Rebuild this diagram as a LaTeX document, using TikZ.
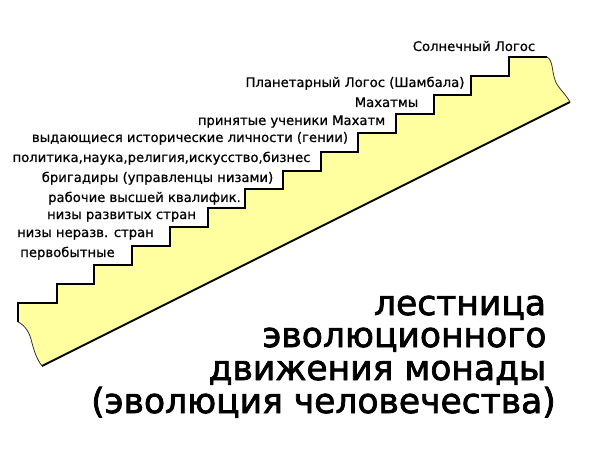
\documentclass[tikz,border=0pt]{standalone}
\usepackage{fontspec}
\setmainfont{DejaVu Sans}
\newfontfamily\lblfont[FakeBold=0.8]{DejaVu Sans}
\newfontfamily\ttlfont[FakeBold=2.2]{DejaVu Sans}
\definecolor{stairfill}{RGB}{255,255,160}
\begin{document}
\begin{tikzpicture}[x=1pt,y=-1pt,
  lbl/.style={font=\lblfont\fontsize{13.2}{15}\selectfont, anchor=base, inner sep=0pt},
  ttl/.style={font=\ttlfont\fontsize{34.5}{40}\selectfont, anchor=base, inner sep=0pt},
  outline/.style={line width=2pt, line join=miter, black},
  torn/.style={line width=0.8pt, black!80}]
\useasboundingbox (0,0) rectangle (604,454);
% fill
\fill[stairfill] (18,322) -- (18,303)
  -| (56.7,284.1) -| (94.4,265.2) -| (132.1,246.2) -| (169.8,227.3)
  -| (207.5,208.4) -| (245.2,189.5) -| (282.9,170.6) -| (320.6,151.6)
  -| (358.3,132.7) -| (396.0,113.8) -| (433.7,94.9) -| (471.4,76.0)
  -| (509.1,57.0) -- (547,57)
  .. controls (553,60) and (552,72) .. (555,80)
  .. controls (557,87) and (565,93) .. (570,102)
  -- (42,366)
  .. controls (36,358) and (34,350) .. (32,343)
  .. controls (30,333) and (25,325) .. (18,322) -- cycle;
% stair outline
\draw[outline] (18,322) -- (18,303)
  -| (56.7,284.1) -| (94.4,265.2) -| (132.1,246.2) -| (169.8,227.3)
  -| (207.5,208.4) -| (245.2,189.5) -| (282.9,170.6) -| (320.6,151.6)
  -| (358.3,132.7) -| (396.0,113.8) -| (433.7,94.9) -| (471.4,76.0)
  -| (509.1,57.0) -- (547,57);
\draw[outline] (570,102) -- (42,366);
\draw[torn] (547,57)
  .. controls (553,60) and (552,72) .. (555,80)
  .. controls (557,87) and (565,93) .. (570,102);
\draw[torn] (42,366)
  .. controls (36,358) and (34,350) .. (32,343)
  .. controls (30,333) and (25,325) .. (18,322);
% labels
\node[lbl] (l1) at (67.5,257) {первобытные};
\node[lbl] (l2) at (85.5,237) {низы неразв. стран};
\node[lbl] (l3) at (121.5,219) {низы развитых стран};
\node[lbl] (l4) at (144.5,202) {рабочие высшей квалифик.};
\node[lbl] (l5) at (157.5,182) {бригадиры (управленцы низами)};
\node[lbl] (l6) at (161.5,162) {политика,наука,религия,искусство,бизнес};
\node[lbl] (l7) at (190,142) {выдающиеся исторические личности (гении)};
\node[lbl] (l8) at (291.5,125) {принятые ученики Махатм};
\node[lbl] (l9) at (386.5,107) {Махатмы};
\node[lbl] (l10) at (355,87) {Планетарный Логос (Шамбала)};
\node[lbl] (l11) at (474,51) {Солнечный Логос};
% title
\node[ttl] (t1) at (460,315) {лестница};
\node[ttl] (t2) at (404.5,347) {эволюционного};
\node[ttl] (t3) at (377.5,380) {движения монады};
\node[ttl] (t4) at (323.5,413) {(эволюция человечества)};
\end{tikzpicture}
\end{document}
